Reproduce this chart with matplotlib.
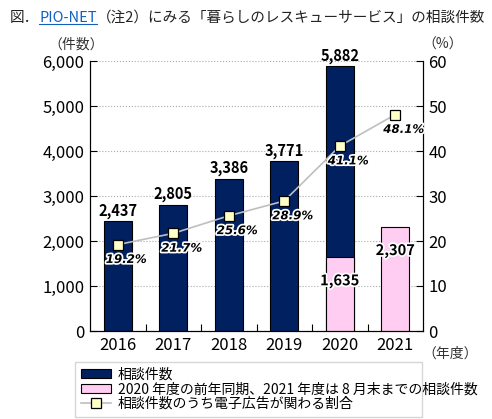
import numpy as np
import matplotlib
matplotlib.use("Agg")
import matplotlib.pyplot as plt
import matplotlib.patheffects as pe
from matplotlib.patches import Patch
from matplotlib.lines import Line2D

plt.rcParams['font.family'] = ['Noto Sans CJK JP', 'DejaVu Sans']

# data
years = ['2016', '2017', '2018', '2019', '2020', '2021']
counts = [2437, 2805, 3386, 3771, 5882, None]
partial = [None, None, None, None, 1635, 2307]
ratio = [19.2, 21.7, 25.6, 28.9, 41.1, 48.1]

navy = '#002060'
pink = '#FFCCF2'

fig = plt.figure(figsize=(4.92, 4.19), dpi=100)
ax = fig.add_axes([90/492, 1-331/419, 333/492, 270/419])
ax2 = ax.twinx()

x = np.arange(len(years))
w = 0.5
for i in range(len(years)):
    if counts[i] is not None:
        ax.bar(x[i], counts[i], w, color=navy, edgecolor='black', linewidth=0.8, zorder=2)
    if partial[i] is not None:
        ax.bar(x[i], partial[i], w, color=pink, edgecolor='black', linewidth=0.8, zorder=3)

stroke = [pe.withStroke(linewidth=2.5, foreground='white')]
for i in range(len(years)):
    if counts[i] is not None:
        ax.annotate(f'{counts[i]:,}', (x[i], counts[i]), xytext=(0, 2), textcoords='offset points',
                    ha='center', va='bottom', fontsize=10.5, fontweight='bold', zorder=5)
for i in range(len(years)):
    if partial[i] is not None:
        ax.annotate(f'{partial[i]:,}', (x[i], partial[i]), xytext=(0, -11), textcoords='offset points',
                    ha='center', va='top', fontsize=10.5, fontweight='bold', zorder=5, path_effects=stroke)

ax.set_xlim(-0.5, 5.5)
ax.set_ylim(0, 6000)
ax.set_yticks(range(0, 6001, 1000))
ax.set_yticklabels([f'{v:,}' for v in range(0, 6001, 1000)])
ax.set_xticks(x)
ax.set_xticklabels(years)
ax.set_xticks(np.arange(0.5, 5, 1), minor=True)
ax.tick_params(axis='x', which='major', length=0, labelsize=12, pad=4)
ax.tick_params(axis='x', which='minor', direction='in', length=5, width=0.8)
ax.tick_params(axis='y', direction='in', length=5, width=0.8, labelsize=12, pad=4)
ax.yaxis.grid(True, linestyle=':', color='#AAAAAA', linewidth=0.8, zorder=0)
ax.set_axisbelow(True)
ax.spines['top'].set_visible(False)
ax2.spines['top'].set_visible(False)

ax2.set_ylim(0, 60)
ax2.set_yticks(range(0, 61, 10))
ax2.tick_params(axis='y', direction='in', length=5, width=0.8, labelsize=12, pad=4)
ax2.plot(x, ratio, color='#BFBFBF', linewidth=1.2, marker='s', markersize=7,
         markerfacecolor='#FFFFC8', markeredgecolor='black', markeredgewidth=0.9, zorder=4)
for i in range(len(years)):
    ax2.annotate(f'{ratio[i]}%', (x[i], ratio[i]), xytext=(6, -6), textcoords='offset points',
                 ha='center', va='top', fontsize=8.5, fontstyle='italic', fontweight='bold',
                 family=['DejaVu Sans'], path_effects=stroke, zorder=6)

fig.text(48/492, 1-45/419, '（件数）', fontsize=10, ha='left', va='center', color='#333333')
fig.text(422/492, 1-45/419, '（%）', fontsize=10, ha='left', va='center', color='#333333')
fig.text(422/492, 1-354/419, '（年度）', fontsize=10, ha='left', va='center', color='#333333')

# title built in pieces so PIO-NET can be blue and underlined
fig.canvas.draw()
r = fig.canvas.get_renderer()
tx = 10/492
ty = 1-18/419
pieces = [('図．', '#222222'), ('PIO-NET', '#1060C0'), ('（注2）にみる「暮らしのレスキューサービス」の相談件数', '#222222')]
for txt, col in pieces:
    t = fig.text(tx, ty, txt, fontsize=10.5, color=col, ha='left', va='center')
    bb = t.get_window_extent(renderer=r)
    if txt == 'PIO-NET':
        uy = (bb.y0 + 1) / fig.bbox.height
        fig.add_artist(Line2D([bb.x0/fig.bbox.width, bb.x1/fig.bbox.width], [uy, uy],
                              color=col, linewidth=0.8))
    tx = bb.x1 / fig.bbox.width

handles = [Patch(facecolor=navy, edgecolor='black', linewidth=0.8),
           Patch(facecolor=pink, edgecolor='black', linewidth=0.8),
           Line2D([], [], color='#BFBFBF', linewidth=1.2, marker='s', markersize=7,
                  markerfacecolor='#FFFFC8', markeredgecolor='black', markeredgewidth=0.9)]
labels = ['相談件数', '2020 年度の前年同期、2021 年度は 8 月末までの相談件数', '相談件数のうち電子広告が関わる割合']
leg = fig.legend(handles, labels, loc='upper left',
                 bbox_to_anchor=(75/492, 1-413/419, 347/492, 51/419), mode='expand',
                 fontsize=10, frameon=True, fancybox=False, edgecolor='#CCCCCC',
                 handlelength=2.2, handleheight=0.6, handletextpad=0.5, labelspacing=0.05,
                 borderpad=0.4, borderaxespad=0)
leg.get_frame().set_linewidth(1.0)

fig.savefig('out.png', dpi=100)
